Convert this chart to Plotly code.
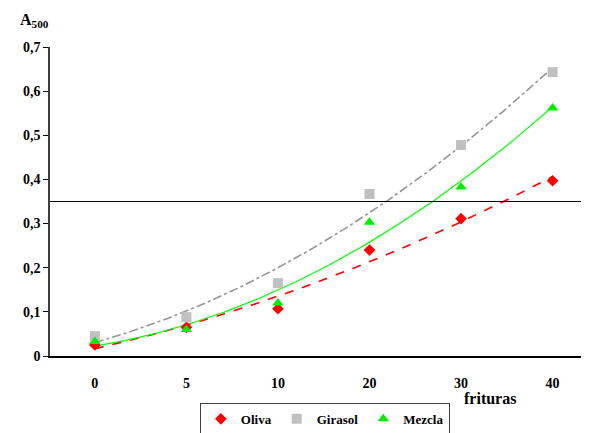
import numpy as np
import plotly.graph_objects as go

categories = ["0", "5", "10", "20", "30", "40"]
oliva = [0.025, 0.065, 0.107, 0.240, 0.311, 0.397]
girasol = [0.045, 0.088, 0.165, 0.367, 0.478, 0.643]
mezcla = [0.033, 0.060, 0.120, 0.303, 0.383, 0.562]
threshold = 0.35
y_ticks = [0, 0.1, 0.2, 0.3, 0.4, 0.5, 0.6, 0.7]
y_labels = ["0", "0,1", "0,2", "0,3", "0,4", "0,5", "0,6", "0,7"]

idx = np.arange(len(categories))
xs = np.linspace(0, len(categories) - 1, 200)

FONT = "Liberation Serif"
fig = go.Figure()

series = [
    ("Oliva", oliva, "#ff0000", "diamond", 9, "#ff0000", "dash", 1.6),
    ("Girasol", girasol, "#c0c0c0", "square", 10, "#969696", "dashdot", 1.6),
    ("Mezcla", mezcla, "#00ee00", "triangle-up", 10, "#00ff00", "solid", 1.2),
]

for name, vals, mc, sym, ms, lc, dash, lw in series:
    coef = np.polyfit(idx, vals, 2)
    fig.add_trace(go.Scatter(x=xs, y=np.polyval(coef, xs), mode="lines",
                             line=dict(color=lc, dash=dash, width=lw),
                             showlegend=False, hoverinfo="skip"))

for name, vals, mc, sym, ms, lc, dash, lw in series:
    fig.add_trace(go.Scatter(x=idx, y=vals, mode="markers", name=name,
                             marker=dict(color=mc, symbol=sym, size=ms)))

fig.add_shape(type="line", xref="paper", yref="y", x0=0, x1=1, y0=threshold, y1=threshold,
              line=dict(color="black", width=1))

fig.update_xaxes(range=[-0.49, 5.31], tickmode="array", tickvals=list(idx), ticktext=categories,
                 showline=True, linecolor="black", linewidth=1.5, showgrid=False, zeroline=False,
                 ticks="outside", ticklen=13, tickcolor="rgba(0,0,0,0)", automargin=False,
                 tickfont=dict(family=FONT, size=14, color="black", weight="bold"))
fig.update_yaxes(range=[0, 0.7], tickmode="array", tickvals=y_ticks, ticktext=y_labels,
                 showline=True, linecolor="#404040", linewidth=1.5, showgrid=False, zeroline=False,
                 ticks="outside", ticklen=5, tickcolor="black", automargin=False,
                 tickfont=dict(family=FONT, size=14, color="black", weight="bold"))

fig.add_annotation(text="<b>A<sub>500</sub></b>", xref="paper", yref="paper", x=-0.06, y=1.05,
                   xanchor="left", yanchor="bottom", showarrow=False,
                   font=dict(family=FONT, size=16, color="black"))
fig.add_annotation(text="<b>frituras</b>", xref="x", yref="paper", x=4.32, y=-0.136,
                   xanchor="center", yanchor="middle", showarrow=False,
                   font=dict(family=FONT, size=16, color="black"))

fig.update_layout(
    width=599, height=425,
    margin=dict(l=42, r=26, t=39, b=77, autoexpand=False),
    paper_bgcolor="white", plot_bgcolor="white",
    legend=dict(orientation="h", x=0.529, xref="container", xanchor="center",
                y=0.071, yref="container", yanchor="top",
                bordercolor="#404040", borderwidth=1,
                font=dict(family=FONT, size=13, color="black", weight="bold"),
                itemwidth=30, tracegroupgap=0),
)

fig.write_html("out.html")
